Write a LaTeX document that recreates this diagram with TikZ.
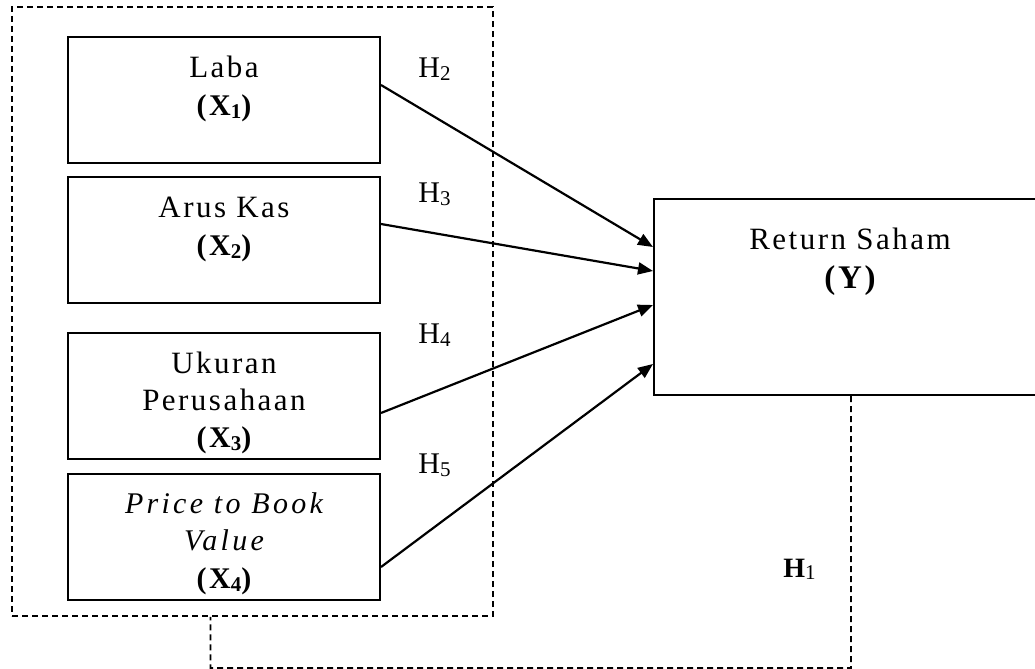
\documentclass[tikz,border=0pt]{standalone}
\usepackage{fontspec}
\setmainfont{Liberation Serif}
\newfontfamily\spc[LetterSpace=8]{Liberation Serif}
\newfontfamily\spci[LetterSpace=11]{Liberation Serif}
\usetikzlibrary{arrows.meta,calc}
\newcommand{\sbx}[1]{\raisebox{-0.12em}{\fontsize{10.5}{11}\selectfont #1}}
\tikzset{
 varbox/.style={draw, line width=1pt, inner sep=0pt, minimum width=156pt, minimum height=63pt},
 txt/.style={anchor=base, inner sep=0pt, font=\spc\fontsize{15.5}{18}\selectfont},
 itxt/.style={anchor=base, inner sep=0pt, font=\spci\itshape\fontsize{15}{18}\selectfont},
 lbl/.style={anchor=base, inner sep=0pt, font=\spc\bfseries\fontsize{15}{18}\selectfont},
 hyp/.style={anchor=base west, inner sep=0pt, font=\fontsize{15}{18}\selectfont},
 dashbox/.style={draw, dash pattern=on 3pt off 2pt, line width=0.9pt},
 arr/.style={-{Triangle[length=7.5pt,width=6pt]}, line width=1.1pt},
}
\begin{document}
\begin{tikzpicture}[x=0.5pt, y=-0.5pt]
\useasboundingbox (0,0) rectangle (1035,669);
% dashed group
\node[dashbox, inner sep=0pt, minimum width=240.5pt, minimum height=304.5pt] (group) at (252.5,311.5) {};
% variable boxes
\node[varbox] (laba) at (224,100) {};
\node[varbox] (arus) at (224,240) {};
\node[varbox] (ukuran) at (224,396) {};
\node[varbox] (pbv) at (224,537) {};
\node[varbox, minimum width=196pt, minimum height=98pt] (ry) at (850,297) {};
% texts
\node[txt] (t1a) at (224,77) {Laba};
\node[lbl] (t1b) at (224,115) {(X\sbx{1})};
\node[txt] (t2a) at (224,217) {Arus Kas};
\node[lbl] (t2b) at (224,255) {(X\sbx{2})};
\node[txt] (t3a) at (224,373) {Ukuran};
\node[txt] (t3b) at (224,410) {Perusahaan};
\node[lbl] (t3c) at (224,447) {(X\sbx{3})};
\node[itxt] (t4a) at (224,513) {Price to Book};
\node[itxt] (t4b) at (224,550) {Value};
\node[lbl] (t4c) at (224,588) {(X\sbx{4})};
\node[txt] (tya) at (850,249) {Return Saham};
\node[lbl, font=\spc\bfseries\fontsize{16.5}{18}\selectfont] (tyb) at (850,288) {(Y)};
% hypothesis labels
\node[hyp] (h2) at (418,77) {H\sbx{2}};
\node[hyp] (h3) at (418,202) {H\sbx{3}};
\node[hyp] (h4) at (418,343) {H\sbx{4}};
\node[hyp] (h5) at (418,473) {H\sbx{5}};
\node[hyp] (h1) at (783,577) {\fontsize{14}{16}\selectfont\bfseries H\raisebox{-0.1em}{\mdseries\fontsize{10.5}{11}\selectfont 1}};
% arrows
\draw[arr] ($(laba.east)+(0,-15)$) -- ($(ry.west)+(0,-50)$);
\draw[arr] ($(arus.east)+(0,-16)$) -- ($(ry.west)+(0,-26)$);
\draw[arr] ($(ukuran.east)+(0,17)$) -- ($(ry.west)+(0,8)$);
\draw[arr] ($(pbv.east)+(0,30)$) -- ($(ry.west)+(0,67)$);
% dashed connector
\coordinate (c1) at ($(ry.south)+(1,272)$);
\coordinate (c2) at ($(group.south)+(-42,51)$);
\draw[dashbox] ($(ry.south)+(1,0)$) -- (c1) -- (c2) -- ($(group.south)+(-42,0)$);
\end{tikzpicture}
\end{document}
